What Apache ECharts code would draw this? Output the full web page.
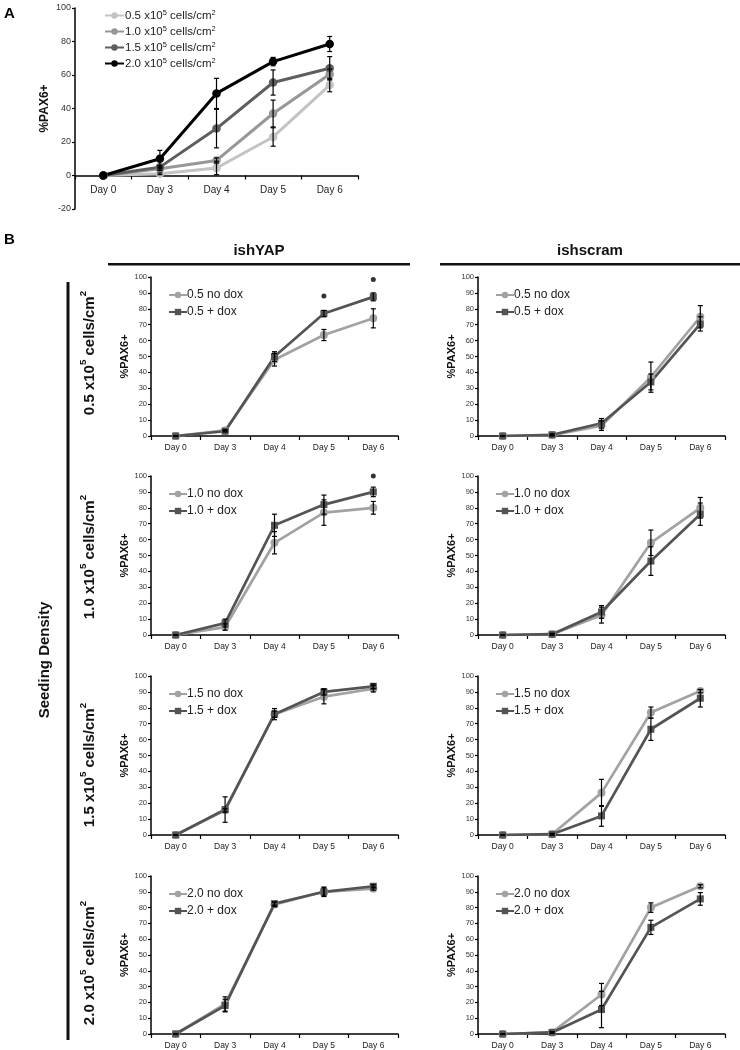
<!DOCTYPE html>
<html><head><meta charset="utf-8">
<script src="https://cdn.jsdelivr.net/npm/echarts@6/dist/echarts.min.js"></script>
<style>html,body{margin:0;padding:0;background:#fff}#c{width:740px;height:1050px}</style>
</head><body><div id="c"></div>
<script>
const days = ['Day 0','Day 3','Day 4','Day 5','Day 6'];
// Panel A
const aNames = ['0.5','1.0','1.5','2.0'];
const a05 = [0, 1, 4.5, 23, 54];      const a05e = [0, 0.5, 4, 5.5, 4];
const a10 = [0, 4, 9, 37, 60.5];      const a10e = [0, 1, 1.5, 8, 3];
const a15 = [0, 5, 28, 55.5, 64];     const a15e = [0, 1, 11.5, 7.5, 7];
const a20 = [0, 10, 49, 68, 78.5];    const a20e = [0, 5, 9, 2.5, 4.5];
// Panel B ishYAP
const y05n = [0, 3.5, 48, 63.5, 74];  const y05ne = [0, 0.5, 4, 3.5, 6];
const y05d = [0, 3, 50, 77, 87.5];    const y05de = [0, 0.5, 3, 2, 2.5];
const y05sig = [[3, 88], [4, 98.5]];
const y10n = [0, 5, 58, 77, 80];      const y10ne = [0, 2, 7, 8, 4];
const y10d = [0, 7.5, 69, 82, 90];    const y10de = [0, 2.5, 7, 6, 3];
const y10sig = [[4, 100]];
const y15n = [0, 15.5, 76, 87, 92];   const y15ne = [0, 1, 2, 4.5, 2];
const y15d = [0, 16, 76, 90, 93.5];   const y15de = [0, 8, 3.5, 2, 1.5];
const y20n = [0, 19, 82, 90, 92];     const y20ne = [0, 4.5, 1.5, 2.5, 1];
const y20d = [0, 18, 82.5, 90, 93.5]; const y20de = [0, 4, 1, 3, 1];
// Panel B ishscram
const s05n = [0, 0.5, 6.5, 37, 75];   const s05ne = [0, 0.5, 3, 9.5, 7];
const s05d = [0, 0.8, 8, 34, 70.5];   const s05de = [0, 0.5, 3, 5, 4.5];
const s10n = [0, 0.5, 12.5, 58, 80];  const s10ne = [0, 0.5, 5, 8, 6.5];
const s10d = [0, 0.5, 14.5, 46.5, 76];const s10de = [0, 0.5, 4, 9, 7];
const s15n = [0, 0.5, 26.5, 77, 90.5];const s15ne = [0, 0.5, 8.5, 3.5, 1];
const s15d = [0, 0.5, 12, 66.5, 86];  const s15de = [0, 0.5, 6.5, 7, 5.5];
const s20n = [0, 1, 25, 80, 93.5];    const s20ne = [0, 0.5, 7, 3, 1];
const s20d = [0, 1, 15.5, 67.5, 85.5];const s20de = [0, 0.5, 11.5, 4.5, 4];

const densLabels = ['0.5','1.0','1.5','2.0'];
const FONT = 'Liberation Sans, Arial, sans-serif';

const grids = [], xAxes = [], yAxes = [], series = [], legends = [];

function errData(m, e){ return m.map((v,i)=>[i, v - e[i], v + e[i]]); }
function renderErr(params, api){
  const x = api.value(0);
  const lo = api.coord([x, api.value(1)]);
  const hi = api.coord([x, api.value(2)]);
  const w = 2.5;
  const st = {stroke:'#000', lineWidth:1.2};
  return {type:'group', children:[
    {type:'line', shape:{x1:lo[0],y1:lo[1],x2:hi[0],y2:hi[1]}, style:st},
    {type:'line', shape:{x1:lo[0]-w,y1:lo[1],x2:lo[0]+w,y2:lo[1]}, style:st},
    {type:'line', shape:{x1:hi[0]-w,y1:hi[1],x2:hi[0]+w,y2:hi[1]}, style:st}
  ]};
}

function addGrid(g, opt){
  const idx = grids.length;
  grids.push(g);
  xAxes.push({type:'category', gridIndex:idx, data:days, boundaryGap:true,
    offset:opt.xoff || 0,
    axisLine:{onZero:false, lineStyle:{color:'#000', width:1.5}},
    axisTick:{show:true, length:4, lineStyle:{color:'#000', width:1.2}},
    axisLabel:{color:'#222', fontSize:opt.xfs, margin:opt.xm, fontFamily:FONT},
    splitLine:{show:false}});
  yAxes.push({type:'value', gridIndex:idx, min:opt.min, max:100, interval:opt.interval,
    name:'%PAX6+', nameLocation:'middle', nameGap:opt.nameGap,
    nameTextStyle:{fontWeight:'bold', fontSize:opt.nfs, color:'#111', fontFamily:FONT},
    axisLine:{show:true, onZero:false, lineStyle:{color:'#000', width:1.5}},
    axisTick:{show:true, length:3, lineStyle:{color:'#000', width:1.2}},
    axisLabel:{color:'#333', fontSize:opt.yfs, margin:4, fontFamily:FONT},
    splitLine:{show:false}});
  return idx;
}

function addLine(idx, name, data, err, color, symbol, size, lw){
  series.push({type:'line', name:name, xAxisIndex:idx, yAxisIndex:idx, data:data,
    symbol:symbol, symbolSize:size, showSymbol:true,
    lineStyle:{color:color, width:lw}, itemStyle:{color:color}, z:2, animation:false});
  series.push({type:'custom', xAxisIndex:idx, yAxisIndex:idx, data:errData(data, err),
    renderItem:renderErr, z:5, silent:true, animation:false});
}

// Panel A
const ia = addGrid({left:75, top:8, width:283, height:201},
  {min:-20, interval:20, xfs:10, xm:10, yfs:9, nameGap:24, nfs:12, xoff:-33.5});
const aCols = ['#c3c3c3','#979797','#5e5e5e','#000000'];
[a05,a10,a15,a20].forEach((d,i)=>addLine(ia, aNames[i], d, [a05e,a10e,a15e,a20e][i], aCols[i], 'circle', 8.5, 3));
legends.push({data:aNames, orient:'vertical', left:99, top:4, itemGap:2, itemWidth:19, itemHeight:8,
  formatter: n => '{a|' + n + ' x10}{s|5}{a| cells/cm}{s|2}',
  textStyle:{fontFamily:FONT, fontSize:11.5, color:'#222', padding:[0,0,0,-4],
    rich:{a:{fontSize:11.5, fontFamily:FONT, color:'#222', lineHeight:13, verticalAlign:'bottom'},
          s:{fontSize:7.5, fontFamily:FONT, color:'#222', lineHeight:13, verticalAlign:'top', padding:[0,0,6,0]}}}});

// Panel B
const rowTops = [277, 476, 676, 876];
const colLefts = [151, 478];
const yapSets = [[y05n,y05ne,y05d,y05de,y05sig],[y10n,y10ne,y10d,y10de,y10sig],[y15n,y15ne,y15d,y15de,null],[y20n,y20ne,y20d,y20de,null]];
const scrSets = [[s05n,s05ne,s05d,s05de,null],[s10n,s10ne,s10d,s10de,null],[s15n,s15ne,s15d,s15de,null],[s20n,s20ne,s20d,s20de,null]];
const noCol = '#a2a2a2', doxCol = '#545454';
for (let r=0; r<4; r++){
  [yapSets[r], scrSets[r]].forEach((set, c)=>{
    const idx = addGrid({left:colLefts[c], top:rowTops[r], width:247, height:159},
      {min:0, interval:10, xfs:8.5, xm:7, yfs:7.5, nameGap:21, nfs:11});
    const nn = densLabels[r] + ' no dox', dn = densLabels[r] + ' + dox';
    addLine(idx, nn, set[0], set[1], noCol, 'circle', 8, 2.7);
    addLine(idx, dn, set[2], set[3], doxCol, 'rect', 7, 2.7);
    if (set[4]) series.push({type:'scatter', xAxisIndex:idx, yAxisIndex:idx, data:set[4],
      symbol:'circle', symbolSize:5, itemStyle:{color:'#000'}, z:6, animation:false});
    legends.push({data:[nn, dn], orient:'vertical', left:colLefts[c]+12, top:rowTops[r]+7, itemGap:5,
      itemWidth:18, itemHeight:8,
      textStyle:{fontFamily:FONT, fontSize:12, color:'#222', padding:[0,0,0,-5]}});
  });
}

function supText(fs){
  return {a:{fontSize:fs, fontWeight:'bold', fontFamily:FONT, fill:'#111', lineHeight:fs+4, verticalAlign:'bottom'},
          s:{fontSize:fs*0.65, fontWeight:'bold', fontFamily:FONT, fill:'#111', lineHeight:fs+4, verticalAlign:'top'}};
}
const graphics = [
  {type:'text', left:4, top:6, style:{text:'A', font:'bold 15px ' + FONT, fill:'#000'}},
  {type:'text', left:4, top:232, style:{text:'B', font:'bold 15px ' + FONT, fill:'#000'}},
  {type:'text', x:259, y:251, style:{text:'ishYAP', font:'bold 15px ' + FONT, fill:'#111', align:'center', verticalAlign:'middle'}},
  {type:'text', x:590, y:251, style:{text:'ishscram', font:'bold 15px ' + FONT, fill:'#111', align:'center', verticalAlign:'middle'}},
  {type:'rect', shape:{x:108, y:263, width:302, height:2.5}, style:{fill:'#111'}},
  {type:'rect', shape:{x:440, y:263, width:300, height:2.5}, style:{fill:'#111'}},
  {type:'rect', shape:{x:66.5, y:282, width:3, height:758}, style:{fill:'#111'}},
  {type:'text', x:45, y:660, rotation:Math.PI/2, style:{text:'Seeding Density', font:'bold 15px ' + FONT, fill:'#111', align:'center', verticalAlign:'middle'}}
];
const densY = [353, 557, 765, 963];
densLabels.forEach((d,i)=>{
  graphics.push({type:'text', x:88, y:densY[i], rotation:Math.PI/2,
    style:{text:'{a|' + d + ' x10}{s|5}{a| cells/cm}{s|2}', align:'center', verticalAlign:'middle',
      rich:supText(15)}});
});

const chart = echarts.init(document.getElementById('c'), null, {renderer:'canvas'});
chart.setOption({
  animation:false,
  backgroundColor:'#fff',
  textStyle:{fontFamily:FONT},
  grid:grids, xAxis:xAxes, yAxis:yAxes, series:series, legend:legends, graphic:graphics
});
</script></body></html>
